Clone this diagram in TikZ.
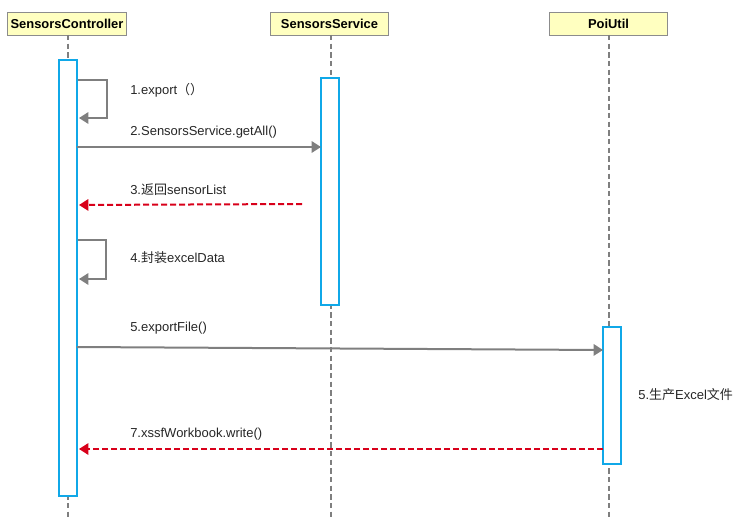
\documentclass[tikz,border=0pt]{standalone}
\usepackage{fontspec}
\setmainfont{Liberation Sans}
\newfontfamily\cjk{Noto Sans CJK SC}
\usetikzlibrary{arrows.meta}
\definecolor{hdrfill}{HTML}{FFFFC0}
\definecolor{hdrline}{HTML}{8C8C8C}
\definecolor{actblue}{HTML}{10A8E8}
\definecolor{msggrey}{HTML}{7F7F7F}
\definecolor{retred}{HTML}{D8001A}
\tikzset{
  hdr/.style={draw=hdrline, fill=hdrfill, line width=0.6pt, font=\bfseries\fontsize{9.7}{11}\selectfont, minimum width=89pt, minimum height=17.25pt, inner sep=0pt},
  life/.style={draw=msggrey, line width=1.4pt, dash pattern=on 4pt off 2.5pt},
  actbar/.style={draw=actblue, fill=white, line width=1.5pt},
  msg/.style={draw=msggrey, line width=1.5pt, -{Triangle[length=7pt,width=8.5pt]}},
  ret/.style={draw=retred, line width=1.5pt, dash pattern=on 4.5pt off 2.25pt, -{Triangle[length=7pt,width=8.5pt]}},
  lbl/.style={anchor=west, inner sep=0pt, font=\fontsize{9.75}{11}\selectfont, text=black!85}
}
\begin{document}
\begin{tikzpicture}[x=0.75pt,y=-0.75pt]
\useasboundingbox (0,0) rectangle (749,520);
% headers
\node[hdr] (hc) at (67,23.5) {SensorsController};
\node[hdr] (hs) at (329.5,23.5) {SensorsService};
\node[hdr] (hp) at (608.5,23.5) {PoiUtil};
% lifelines
\coordinate (lcEnd) at (68,520);
\coordinate (lsEnd) at (331,520);
\coordinate (lpEnd) at (609,520);
\draw[life] (68,35) -- (lcEnd);
\draw[life] (331,35) -- (lsEnd);
\draw[life] (609,35) -- (lpEnd);
% activation bars
\draw[actbar] (59,60) rectangle (77,496);
\draw[actbar] (321,78) rectangle (339,305);
\draw[actbar] (603,327) rectangle (621,464);
% coordinates for messages
\coordinate (c1a) at (78,80);
\coordinate (c1b) at (79,118);
\coordinate (s2) at (77,147);
\coordinate (t2) at (321,147);
\coordinate (s3) at (302,204);
\coordinate (t3) at (79,205);
\coordinate (c4a) at (78,240);
\coordinate (c4b) at (79,279);
\coordinate (s5) at (77,347);
\coordinate (t5) at (603,350);
\coordinate (s7) at (603,449);
\coordinate (t7) at (79,449);
% messages
\draw[msg] (c1a) -- (107,80) -- (107,118) -- (c1b);
\draw[msg] (s2) -- (t2);
\draw[ret] (s3) -- (t3);
\draw[msg] (c4a) -- (106,240) -- (106,279) -- (c4b);
\draw[msg] (s5) -- (t5);
\draw[ret] (s7) -- (t7);
% labels
\node[lbl] (l1) at (130,90) {1.export{\cjk （）}};
\node[lbl] (l2) at (130,132) {2.SensorsService.getAll()};
\node[lbl] (l3) at (130,190) {3.{\cjk 返回}sensorList};
\node[lbl] (l4) at (130,258) {4.{\cjk 封装}excelData};
\node[lbl] (l5) at (130,328) {5.exportFile()};
\node[lbl] (l6) at (638,395) {5.{\cjk 生产}Excel{\cjk 文件}};
\node[lbl] (l7) at (130,434) {7.xssfWorkbook.write()};
\end{tikzpicture}
\end{document}
